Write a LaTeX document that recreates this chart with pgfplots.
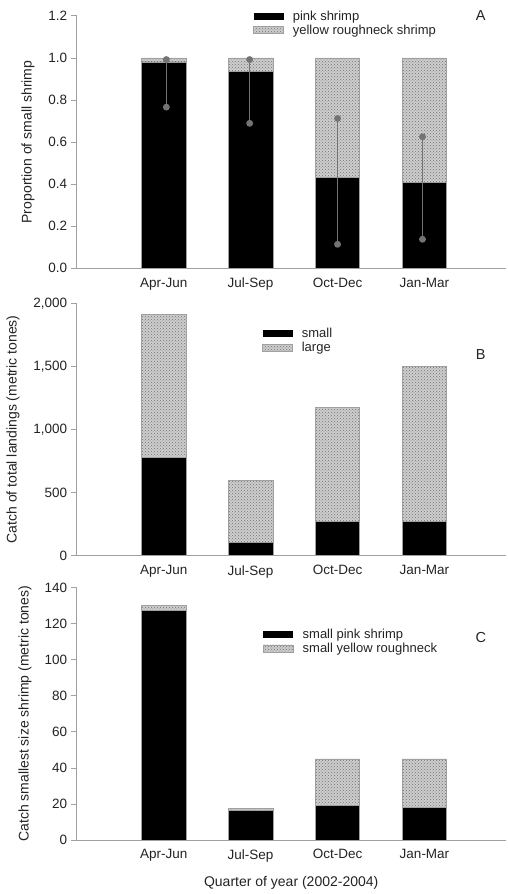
\documentclass[border=0pt]{standalone}
\usepackage{pgfplots}
\pgfplotsset{compat=1.18}
\usepackage{fontspec}
\setmainfont{Liberation Sans}
\usetikzlibrary{patterns}

\definecolor{axgray}{RGB}{160,160,160}
\definecolor{txt}{RGB}{35,35,35}
\definecolor{errgray}{RGB}{115,115,115}
\definecolor{dotfill}{RGB}{205,205,205}

\pgfplotsset{
  base/.style={
    scale only axis, width=429pt, height=252.5pt,
    xmin=0, xmax=4.934, enlargelimits=false, clip=false,
    axis x line*=bottom, axis y line*=left,
    axis line style={axgray, line width=0.7pt},
    xtick={1,2,3,4}, xticklabels={Apr-Jun,Jul-Sep,Oct-Dec,Jan-Mar},
    x tick style={draw=none},
    y tick style={axgray, line width=0.7pt},
    major tick length=6pt, tick align=outside,
    ticklabel style={font=\fontsize{13.5}{15}\selectfont, text=txt},
    /pgf/number format/assume math mode=true,
    label style={font=\fontsize{14}{16}\selectfont, text=txt},
    legend style={draw=none, fill=none, font=\fontsize{13}{15}\selectfont,
      text=txt, inner sep=0pt, row sep=1pt, anchor=north west,
      nodes={inner sep=1pt},
      /tikz/every odd column/.append style={column sep=8pt}},
    legend cell align=left,
  },
  shrimp/.style={base, ybar stacked, bar width=44.5pt},
  blackbar/.style={fill=black, draw=axgray, line width=0.6pt,
    legend image code/.code={\path[fill=black, draw=none] (0pt,-3.5pt) rectangle (30pt,3.5pt);}},
  dotbar/.style={fill=dotfill, draw=axgray, line width=0.6pt,
    postaction={pattern=crosshatch dots, pattern color=black!55},
    legend image code/.code={\path[fill=dotfill, draw=none] (0pt,-3.5pt) rectangle (30pt,3.5pt);}},
  errline/.style={errgray, line width=1.6pt, mark=*, mark size=2.6pt,
    mark options={fill=errgray, draw=errgray}},
}

\begin{document}
\begin{tikzpicture}
\useasboundingbox (0pt,0pt) rectangle (507pt,894pt);

% ---------------- Panel A ----------------
\begin{axis}[shrimp, at={(76.7pt,625.7pt)}, anchor=south west,
  ymin=0, ymax=1.2, ytick={0,0.2,0.4,0.6,0.8,1.0,1.2},
  yticklabel style={/pgf/number format/fixed, /pgf/number format/fixed zerofill, /pgf/number format/precision=1},
  ylabel={Proportion of small shrimp},
  ylabel style={at={(axis description cs:-0.1135,0.5)}, anchor=center},
  legend style={at={(rel axis cs:0.411,1.025)}}]
\addplot[blackbar] coordinates {(1,0.981) (2,0.934) (3,0.432) (4,0.407)};
\addplot[dotbar] coordinates {(1,0.019) (2,0.066) (3,0.568) (4,0.593)};
\legend{pink shrimp, yellow roughneck shrimp}
\node[font=\fontsize{14.5}{16}\selectfont, text=txt] at (rel axis cs:0.942,1.003) {A};
\end{axis}
\begin{axis}[base, at={(76.7pt,625.7pt)}, anchor=south west, hide axis,
  ymin=0, ymax=1.2]
\addplot[errline] coordinates {(1.031,0.992) (1.031,0.766)};
\addplot[errline] coordinates {(1.989,0.992) (1.989,0.689)};
\addplot[errline] coordinates {(3.0,0.712) (3.0,0.114)};
\addplot[errline] coordinates {(3.977,0.625) (3.977,0.138)};
\end{axis}

% ---------------- Panel B ----------------
\begin{axis}[shrimp, at={(76.7pt,338.3pt)}, anchor=south west,
  ymin=0, ymax=2000, ytick={0,500,1000,1500,2000},
  yticklabel style={/pgf/number format/1000 sep={,}},
  ylabel={Catch of total landings (metric tones)},
  ylabel style={at={(axis description cs:-0.1485,0.5)}, anchor=center},
  legend style={at={(rel axis cs:0.432,0.905)}}]
\addplot[blackbar] coordinates {(1,777) (2,103) (3,270) (4,270)};
\addplot[dotbar] coordinates {(1,1136) (2,494) (3,903) (4,1228)};
\legend{small, large}
\node[font=\fontsize{14.5}{16}\selectfont, text=txt] at (rel axis cs:0.942,0.798) {B};
\end{axis}

% ---------------- Panel C ----------------
\begin{axis}[shrimp, at={(76.7pt,54pt)}, anchor=south west,
  ymin=0, ymax=140, ytick={0,20,40,60,80,100,120,140},
  ylabel={Catch smallest size shrimp (metric tones)},
  ylabel style={at={(axis description cs:-0.1205,0.5)}, anchor=center},
  xlabel={Quarter of year (2002-2004)},
  xlabel style={at={(rel axis cs:0.5,0)}, yshift=-43.3pt, anchor=center},
  legend style={at={(rel axis cs:0.434,0.84)}}]
\addplot[blackbar] coordinates {(1,127.4) (2,16.5) (3,19.4) (4,18.1)};
\addplot[dotbar] coordinates {(1,2.8) (2,1.2) (3,25.6) (4,26.9)};
\legend{small pink shrimp, small yellow roughneck}
\node[font=\fontsize{14.5}{16}\selectfont, text=txt] at (rel axis cs:0.942,0.802) {C};
\end{axis}
\end{tikzpicture}
\end{document}
